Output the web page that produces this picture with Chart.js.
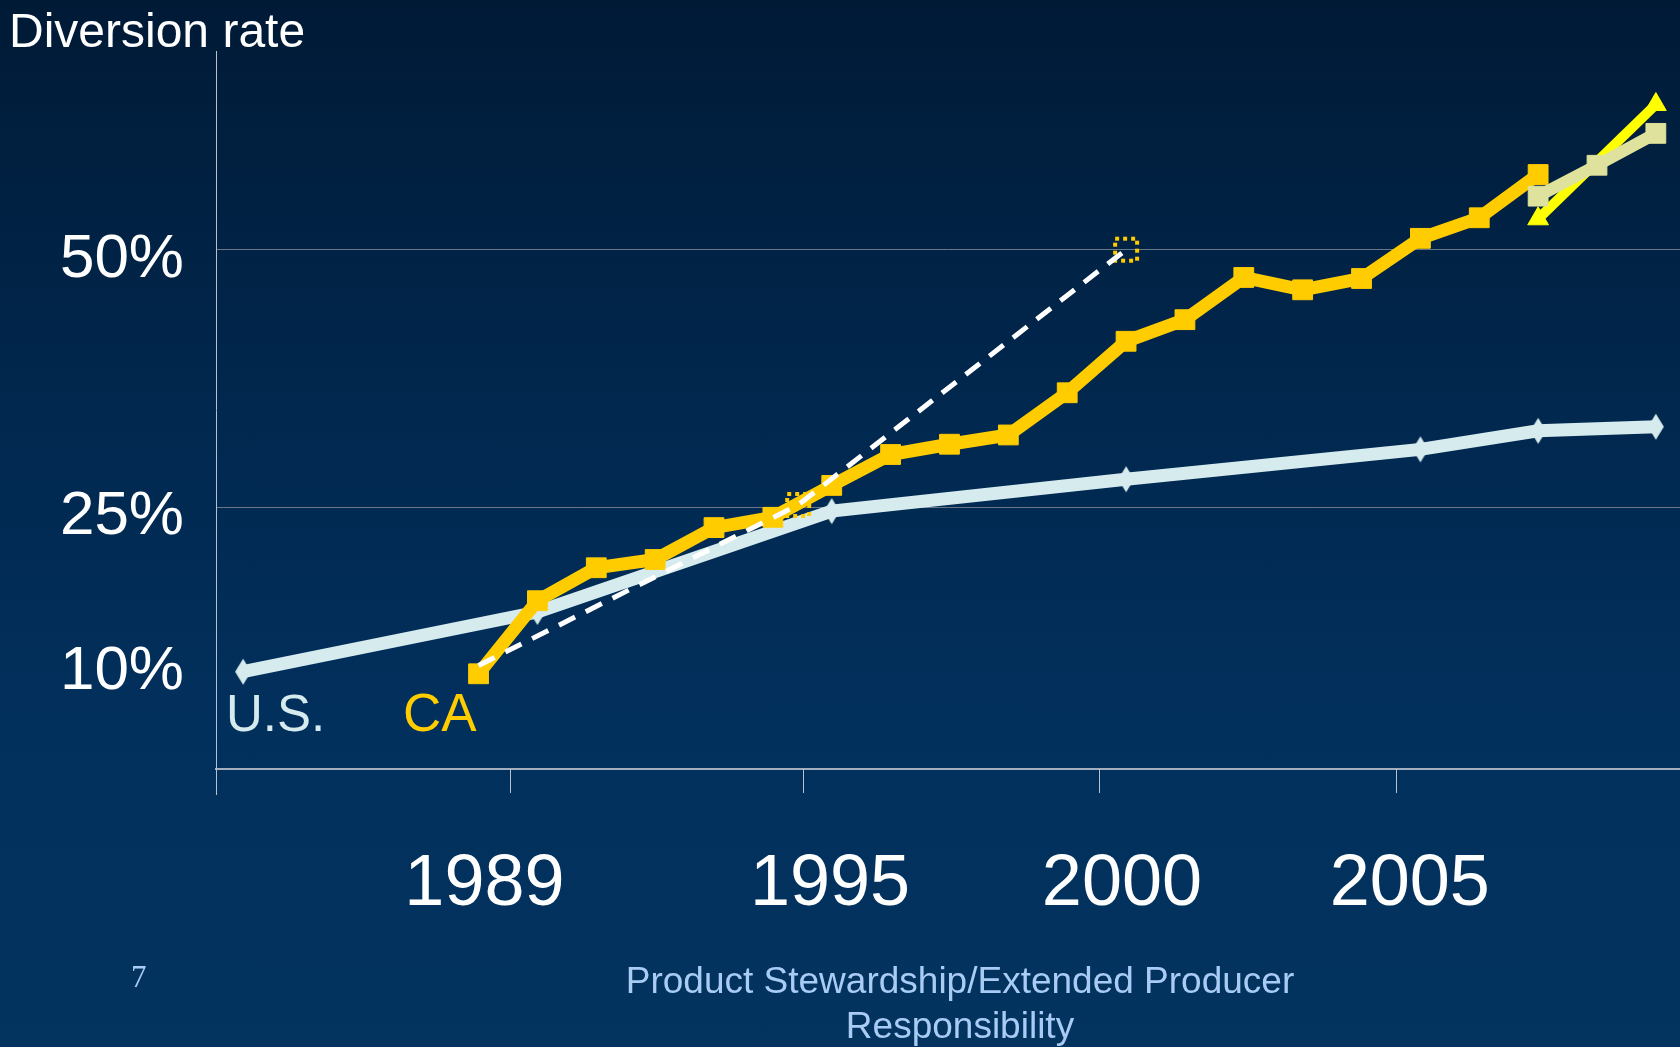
<!DOCTYPE html>
<html>
<head>
<meta charset="utf-8">
<script src="https://cdn.jsdelivr.net/npm/chart.js@4.4.1/dist/chart.umd.min.js"></script>
<style>
  html, body { margin: 0; padding: 0; }
  body {
    width: 1680px; height: 1047px; overflow: hidden;
    background: linear-gradient(to bottom, #001a36 0%, #01284f 40%, #02305d 70%, #03335f 100%);
  }
  #wrap { position: relative; width: 1680px; height: 1047px; }
</style>
</head>
<body>
<div id="wrap"><canvas id="diversion"></canvas></div>
<script>
// California diversion rate, yearly
const caYears = [1989, 1990, 1991, 1992, 1993, 1994, 1995, 1996, 1997, 1998, 1999, 2000, 2001, 2002, 2003, 2004, 2005, 2006, 2007];
const caRates = [8.8, 15.9, 19.1, 19.9, 23.0, 24.0, 27.1, 30.1, 31.1, 32.0, 36.1, 41.1, 43.2, 47.3, 46.1, 47.2, 51.1, 53.1, 57.3];

// U.S. recycling rate
const usYears = [1985, 1990, 1995, 2000, 2005, 2007, 2009];
const usRates = [9.0, 14.8, 24.6, 27.7, 30.6, 32.4, 32.8];

// state mandate (25% / 50%)
const goalYears = [1989, 1994.43, 2000];
const goalRates = [9.6, 25.2, 50];

// newer measurement method
const recentYears = [2007, 2008, 2009];
const recentRates = [55.2, 58.2, 61.3];
const projYears = [2007, 2009];
const projRates = [53.0, 64.1];

// x labels and where they sit, tick marks sit between years
const yearLabels = ['1989', '1995', '2000', '2005'];
const yearLabelAt = [1989.1, 1994.97, 1999.93, 2004.82];
const tickMarkYears = [1989.53, 1994.52, 1999.54, 2004.58];
const yTicks = [10, 25, 50];
const yGrid = [25, 50];

const FONT = "'Liberation Sans', Arial, sans-serif";

const pts = (xs, ys) => xs.map((x, i) => ({ x: x, y: ys[i] }));

// dotted yellow box used for the mandate points
const dotBox = document.createElement('canvas');
dotBox.width = 28; dotBox.height = 28;
let g = dotBox.getContext('2d');
g.strokeStyle = '#ffcc00';
g.lineWidth = 4;
g.setLineDash([4, 4]);
g.strokeRect(3, 3, 22, 22);

// tall narrow diamond for the U.S. series
const usDiamond = document.createElement('canvas');
usDiamond.width = 18; usDiamond.height = 28;
g = usDiamond.getContext('2d');
g.fillStyle = '#d6ebee';
g.beginPath();
g.moveTo(9, 1); g.lineTo(17, 14); g.lineTo(9, 27); g.lineTo(1, 14);
g.closePath();
g.fill();

const notes = [
  { text: 'Diversion rate', x: 9, y: 47, size: 48, color: '#ffffff' },
  { text: 'U.S.', x: 226, y: 731, size: 51, color: '#d6ebee' },
  { text: 'CA', x: 403, y: 731, size: 53, color: '#ffcc00' },
  { text: '7', x: 131, y: 987, size: 31, color: '#a8ccf4', family: "'Liberation Serif', serif" },
  { text: 'Product Stewardship/Extended Producer', x: 960, y: 993, size: 37, color: '#a8ccf4', align: 'center' },
  { text: 'Responsibility', x: 960, y: 1038, size: 37, color: '#a8ccf4', align: 'center' }
];

const frame = {
  id: 'frame',
  afterDraw(chart) {
    const { ctx, chartArea } = chart;
    const x = chart.scales.x;
    ctx.save();
    ctx.strokeStyle = '#b9c0c9';
    ctx.lineWidth = 1;
    ctx.beginPath();
    tickMarkYears.forEach(yr => {
      const px = Math.round(x.getPixelForValue(yr)) + 0.5;
      ctx.moveTo(px, chartArea.bottom);
      ctx.lineTo(px, chartArea.bottom + 24);
    });
    const lx = Math.round(chartArea.left) + 0.5;
    ctx.moveTo(lx, chartArea.bottom);
    ctx.lineTo(lx, chartArea.bottom + 26);
    ctx.stroke();

    ctx.textBaseline = 'alphabetic';
    notes.forEach(n => {
      ctx.font = n.size + 'px ' + (n.family || FONT);
      ctx.fillStyle = n.color;
      ctx.textAlign = n.align || 'left';
      ctx.fillText(n.text, n.x, n.y);
    });
    ctx.restore();
  }
};

new Chart(document.getElementById('diversion'), {
  type: 'line',
  data: {
    datasets: [
      {
        label: 'new method',
        data: pts(recentYears, recentRates),
        borderColor: '#dfe29c',
        backgroundColor: '#dfe29c',
        borderWidth: 12,
        pointStyle: 'rect',
        pointRadius: 14,
        pointBorderWidth: 1
      },
      {
        label: 'projection',
        data: pts(projYears, projRates),
        borderColor: '#ffff00',
        backgroundColor: '#ffff00',
        borderWidth: 10,
        pointStyle: 'triangle',
        pointRadius: 12,
        pointBorderWidth: 1
      },
      {
        label: 'mandate',
        data: pts(goalYears, goalRates),
        borderColor: '#ffffff',
        borderWidth: 5,
        borderDash: [18, 12],
        pointRadius: 0
      },
      {
        label: 'CA',
        data: pts(caYears, caRates),
        borderColor: '#ffcc00',
        backgroundColor: '#ffcc00',
        borderWidth: 13,
        pointStyle: 'rect',
        pointRadius: 14,
        pointBorderWidth: 1
      },
      {
        label: 'mandate points',
        data: pts(goalYears.slice(1), goalRates.slice(1)),
        showLine: false,
        pointStyle: dotBox,
        pointRadius: 12
      },
      {
        label: 'U.S.',
        data: pts(usYears, usRates),
        borderColor: '#d6ebee',
        backgroundColor: '#d6ebee',
        borderWidth: 13,
        pointStyle: usDiamond,
        pointRadius: 12
      }
    ]
  },
  options: {
    responsive: true,
    maintainAspectRatio: false,
    animation: false,
    layout: { autoPadding: false, padding: { top: 51, right: 0, left: 0, bottom: 0 } },
    plugins: {
      legend: { display: false },
      tooltip: { enabled: false }
    },
    elements: { line: { tension: 0, fill: false } },
    scales: {
      x: {
        type: 'linear',
        min: 1984.54,
        max: 2009.41,
        afterBuildTicks: s => { s.ticks = yearLabelAt.map(v => ({ value: v })); },
        afterFit: s => { s.height = 278; s.paddingLeft = 0; s.paddingRight = 0; },
        grid: { display: false, drawTicks: false },
        border: { display: true, color: '#a3adbb', width: 2 },
        ticks: {
          autoSkip: false,
          maxRotation: 0,
          color: '#ffffff',
          padding: 80,
          font: { family: FONT, size: 72, lineHeight: 1 },
          callback: (v, i) => yearLabels[i]
        }
      },
      y: {
        min: -0.45,
        max: 69.3,
        afterBuildTicks: s => { s.ticks = yTicks.map(v => ({ value: v })); },
        afterFit: s => { s.width = 216; s.paddingTop = 0; s.paddingBottom = 0; },
        grid: {
          drawTicks: false,
          lineWidth: 1,
          color: c => (c.tick && yGrid.includes(c.tick.value)) ? '#6b7788' : 'rgba(0,0,0,0)'
        },
        border: { color: '#b9c0c9', width: 1 },
        ticks: {
          color: '#ffffff',
          padding: 32,
          labelOffset: 10,
          font: { family: FONT, size: 62, lineHeight: 1 },
          callback: v => v + '%'
        }
      }
    }
  },
  plugins: [frame]
});
</script>
</body>
</html>
